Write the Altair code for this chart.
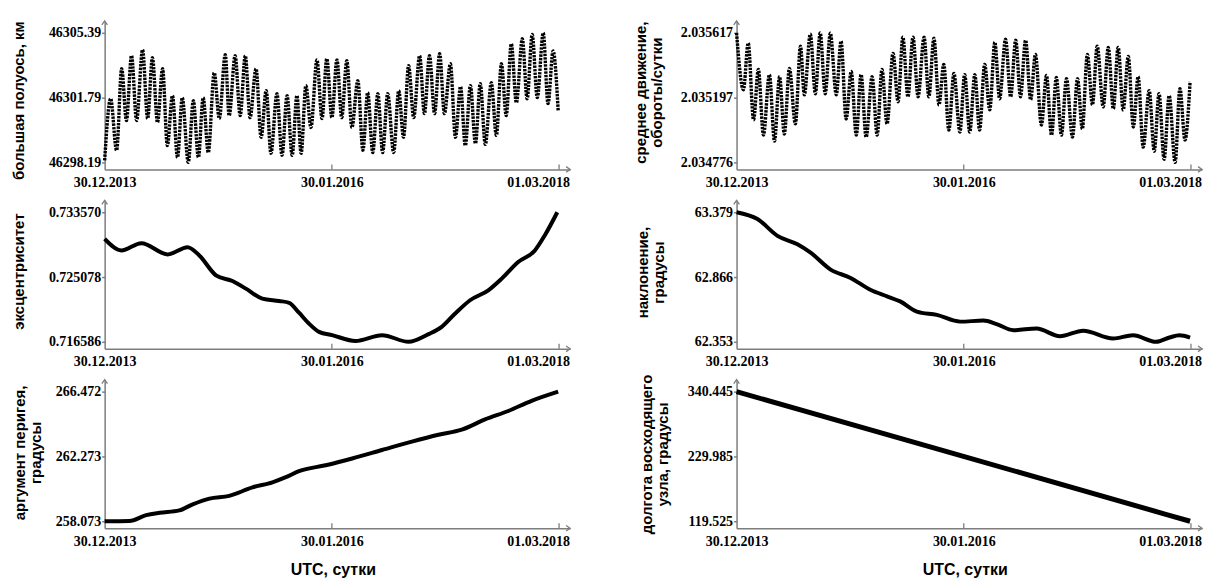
import altair as alt
import pandas as pd

START = "2013-12-30"

# (day since 30.12.2013, value)
SEMI_MAJOR = [
    (0, 46298.30), (20, 46301.73), (40, 46298.86), (57, 46303.40), (73, 46300.52),
    (90, 46304.12), (107, 46300.52), (127, 46304.45), (144, 46300.63), (160, 46304.01),
    (177, 46300.41), (194, 46303.40), (210, 46299.13), (227, 46301.90), (244, 46298.47),
    (260, 46301.79), (280, 46298.19), (297, 46301.62), (314, 46298.47), (330, 46301.79),
    (347, 46298.74), (367, 46303.17), (384, 46300.63), (404, 46304.17), (417, 46300.79),
    (437, 46304.12), (454, 46300.79), (471, 46304.12), (487, 46300.68), (507, 46303.40),
    (524, 46299.58), (541, 46302.18), (557, 46298.69), (577, 46302.01), (594, 46298.58),
    (611, 46301.90), (628, 46298.58), (644, 46301.90), (658, 46298.69), (674, 46302.46),
    (691, 46300.13), (711, 46303.89), (728, 46300.63), (744, 46303.95), (761, 46300.68),
    (778, 46303.89), (794, 46300.68), (811, 46303.84), (828, 46300.13), (848, 46302.73),
    (865, 46298.86), (881, 46302.07), (898, 46298.74), (915, 46302.01), (931, 46298.74),
    (948, 46302.01), (968, 46298.74), (985, 46302.18), (1001, 46299.58), (1018, 46303.56),
    (1035, 46300.68), (1055, 46304.12), (1071, 46300.90), (1088, 46304.12), (1105, 46300.90),
    (1122, 46304.23), (1138, 46300.90), (1158, 46303.67), (1175, 46299.58), (1192, 46302.40),
    (1208, 46299.13), (1225, 46302.46), (1242, 46299.24), (1258, 46302.57), (1275, 46299.19),
    (1295, 46302.62), (1312, 46299.69), (1329, 46303.67), (1345, 46300.79), (1362, 46304.78),
    (1379, 46301.51), (1399, 46305.06), (1415, 46301.73), (1432, 46305.30), (1449, 46301.79),
    (1469, 46305.39), (1485, 46301.46), (1502, 46304.39), (1519, 46301.07),
]

MEAN_MOTION = [
    (0, 2.035617), (23, 2.035248), (39, 2.035550), (57, 2.035052), (73, 2.035379),
    (90, 2.034953), (110, 2.035346), (127, 2.034914), (144, 2.035333), (160, 2.034960),
    (177, 2.035386), (197, 2.035026), (214, 2.035530), (227, 2.035215), (247, 2.035608),
    (264, 2.035222), (280, 2.035617), (297, 2.035222), (314, 2.035615), (334, 2.035215),
    (350, 2.035563), (367, 2.035058), (384, 2.035366), (401, 2.034953), (417, 2.035346),
    (434, 2.034940), (454, 2.035333), (471, 2.034953), (487, 2.035379), (504, 2.035026),
    (524, 2.035484), (541, 2.035170), (557, 2.035589), (574, 2.035202), (591, 2.035589),
    (608, 2.035202), (628, 2.035589), (644, 2.035202), (661, 2.035582), (678, 2.035150),
    (694, 2.035412), (711, 2.034986), (728, 2.035353), (748, 2.034973), (764, 2.035346),
    (781, 2.034973), (798, 2.035346), (814, 2.034986), (831, 2.035412), (848, 2.035117),
    (865, 2.035556), (881, 2.035189), (901, 2.035576), (918, 2.035202), (935, 2.035569),
    (951, 2.035202), (968, 2.035569), (985, 2.035183), (1001, 2.035477), (1021, 2.035019),
    (1038, 2.035340), (1055, 2.034953), (1071, 2.035327), (1088, 2.034953), (1105, 2.035320),
    (1125, 2.034940), (1142, 2.035320), (1158, 2.034993), (1175, 2.035477), (1192, 2.035150),
    (1208, 2.035530), (1228, 2.035137), (1245, 2.035523), (1262, 2.035124), (1278, 2.035523),
    (1295, 2.035117), (1312, 2.035464), (1329, 2.035006), (1345, 2.035333), (1362, 2.034875),
    (1382, 2.035242), (1399, 2.034849), (1415, 2.035222), (1432, 2.034796), (1449, 2.035209),
    (1469, 2.034776), (1485, 2.035255), (1502, 2.034921), (1519, 2.035301),
]

ECCENTRICITY = [
    (0, 0.730095), (56, 0.728566), (123, 0.729520), (211, 0.728044), (278, 0.728997),
    (317, 0.727913), (373, 0.725300), (428, 0.724555), (473, 0.723562), (528, 0.722256),
    (584, 0.721942), (618, 0.721707), (651, 0.720400), (684, 0.718989), (718, 0.717892),
    (762, 0.717461), (840, 0.716700), (929, 0.717461), (1018, 0.716586), (1085, 0.717592),
    (1129, 0.718545), (1174, 0.720296), (1224, 0.722034), (1285, 0.723340), (1330, 0.724869),
    (1385, 0.727038), (1441, 0.728566), (1474, 0.730526), (1516, 0.733570),
]

INCLINATION = [
    (0, 63.379), (70, 63.325), (137, 63.192), (204, 63.125), (248, 63.059),
    (315, 62.925), (382, 62.859), (448, 62.765), (504, 62.713), (548, 62.673),
    (604, 62.593), (671, 62.566), (749, 62.513), (827, 62.521), (871, 62.493),
    (927, 62.445), (1005, 62.459), (1083, 62.397), (1161, 62.441), (1261, 62.379),
    (1328, 62.405), (1405, 62.353), (1450, 62.387), (1483, 62.405), (1519, 62.387),
]

PERIGEE = [
    (0, 258.073), (83, 258.090), (139, 258.466), (184, 258.618), (250, 258.776),
    (295, 259.172), (351, 259.542), (417, 259.720), (495, 260.268), (562, 260.598),
    (607, 260.928), (651, 261.317), (740, 261.700), (829, 262.142), (929, 262.690),
    (1029, 263.238), (1118, 263.680), (1196, 264.010), (1274, 264.670), (1352, 265.218),
    (1430, 265.878), (1519, 266.472),
]

RAAN = [(0, 340.445), (760, 230.000), (1519, 119.525)]

# y tick values (min, middle, max) and label formats
TICKS_A = [46298.19, 46301.79, 46305.39]
TICKS_B = [2.034776, 2.035197, 2.035617]
TICKS_C = [0.716586, 0.725078, 0.733570]
TICKS_D = [62.353, 62.866, 63.379]
TICKS_E = [258.073, 262.273, 266.472]
TICKS_F = [119.525, 229.985, 340.445]

TITLE_A = "большая полуось, км"
TITLE_B = ["среднее движение,", "обороты/сутки"]
TITLE_C = "эксцентриситет"
TITLE_D = ["наклонение,", "градусы"]
TITLE_E = ["аргумент перигея,", "градусы"]
TITLE_F = ["долгота восходящего", "узла, градусы"]
X_TITLE = "UTC, сутки"

GRAY = "#7d7d7d"
LABEL_FONT = "Liberation Serif"
TITLE_FONT = "Liberation Sans"
W, H = 467, 149

UP = "M-0.7,1L0,0L0.7,1"
RIGHT = "M-1,-0.7L0,0L-1,0.7"


def dt(y, m, d):
    return alt.DateTime(year=y, month=m, date=d, utc=True)


TICK_DATES = [dt(2013, 12, 30), dt(2016, 1, 30), dt(2018, 3, 1)]
X_DOMAIN = [dt(2013, 12, 30), dt(2018, 4, 7)]


def panel(points, ticks, fmt, title, title_x, title_y, dotted, stroke_w, bottom):
    lo_t, mid_t, hi_t = ticks
    span = hi_t - lo_t
    lo = lo_t - span * 7 / 130
    hi = hi_t + span * 12 / 130
    df = pd.DataFrame(points, columns=["day", "v"])
    df["date"] = (pd.Timestamp(START) + pd.to_timedelta(df["day"], unit="D")).dt.strftime("%Y-%m-%d")

    xkw = dict(
        values=TICK_DATES, format="%d.%m.%Y", ticks=False, labelPadding=6,
        labelFont=LABEL_FONT, labelFontSize=14, labelFontWeight="bold", labelColor="black",
        labelFlush=False, labelOverlap=False, domainColor=GRAY, domainWidth=1.5, grid=False,
        labelOffset={"condition": {"test": "datum.label == '01.03.2018'", "value": -21}, "value": 0},
        title=None,
    )
    if bottom:
        xkw.update(title=X_TITLE, titleFont=TITLE_FONT, titleFontSize=16, titleFontWeight="bold",
                   titleColor="black", titleX=229, titleY=41, titleBaseline="middle", titleAlign="center")
    xaxis = alt.Axis(**xkw)
    yaxis = alt.Axis(
        values=ticks, format=fmt, tickSize=3, tickColor=GRAY, tickWidth=1.5,
        domainColor=GRAY, domainWidth=1.5, labelPadding=1, labelFont=LABEL_FONT,
        labelFontSize=14, labelFontWeight="bold", labelColor="black", grid=False,
        labelFlush=False, labelOverlap=False, title=title, titleFont=TITLE_FONT,
        titleFontSize=15, titleFontWeight="bold", titleColor="black", titleAngle=270,
        titleAlign="center", titleBaseline="top", titleX=title_x, titleY=title_y,
        titleLineHeight=16,
    )
    xscale = alt.Scale(type="utc", domain=X_DOMAIN)
    yscale = alt.Scale(domain=[lo, hi], nice=False, zero=False)

    mk = dict(color="black", strokeWidth=stroke_w, interpolate="monotone")
    if dotted:
        mk["strokeDash"] = [2.4, 1.1]
    line = alt.Chart(df).mark_line(**mk).encode(
        x=alt.X("date:T", scale=xscale, axis=xaxis),
        y=alt.Y("v:Q", scale=yscale, axis=yaxis),
    )
    one = pd.DataFrame({"k": [0]})
    up = alt.Chart(one).mark_point(shape=UP, size=64, filled=False, color=GRAY,
                                   strokeWidth=1.3, opacity=1).encode(
        x=alt.XDatum(datum=dt(2013, 12, 30), type="temporal"),
        y=alt.YDatum(datum=hi, type="quantitative"),
    )
    right = alt.Chart(one).mark_point(shape=RIGHT, size=64, filled=False, color=GRAY,
                                      strokeWidth=1.3, opacity=1).encode(
        x=alt.XDatum(datum=X_DOMAIN[1], type="temporal"),
        y=alt.YDatum(datum=lo, type="quantitative"),
    )
    layers = [line, up, right]
    for d in TICK_DATES[1:]:
        layers.append(
            alt.Chart(one).mark_rule(color=GRAY, strokeWidth=1.3).encode(
                x=alt.XDatum(datum=d, type="temporal"),
                y=alt.YDatum(datum=lo, type="quantitative"),
                y2=alt.Y2Datum(datum=lo + (hi - lo) * 5 / H),
            )
        )
    return alt.layer(*layers).properties(width=W, height=H)


pA = panel(SEMI_MAJOR, TICKS_A, ".2f", TITLE_A, -93, 79.5, True, 3.4, False)
pB = panel(MEAN_MOTION, TICKS_B, ".6f", TITLE_B, -103, 71.5, True, 3.4, False)
pC = panel(ECCENTRICITY, TICKS_C, ".6f", TITLE_C, -93, 71, False, 4, False)
pD = panel(INCLINATION, TICKS_D, ".3f", TITLE_D, -101, 72, False, 4, False)
pE = panel(PERIGEE, TICKS_E, ".3f", TITLE_E, -92, 73, False, 4, True)
pF = panel(RAAN, TICKS_F, ".3f", TITLE_F, -97, 74.5, False, 5, True)

chart = alt.concat(
    pA, pB, pC, pD, pE, pF, columns=2, spacing={"row": 31, "column": 167}, bounds="flush"
).properties(
    padding={"left": 12, "top": 17, "right": 2, "bottom": 2},
    background="white",
).configure_view(stroke=None)

chart.save("out.html", embed_options={"renderer": "svg", "actions": False})
